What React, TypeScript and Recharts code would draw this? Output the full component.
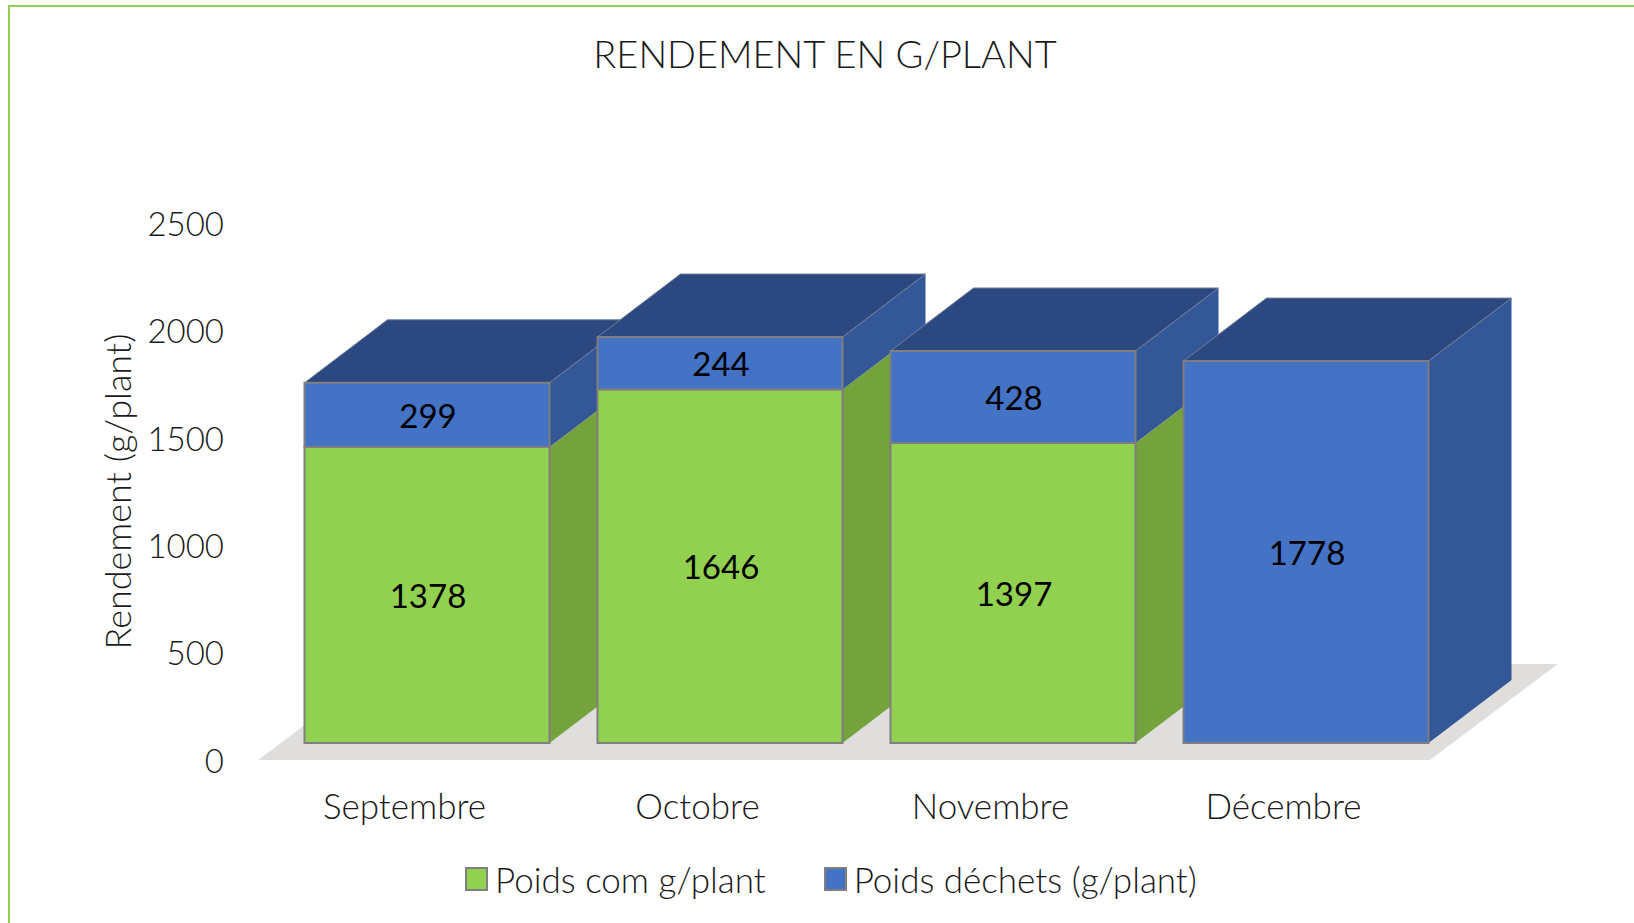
import { Bar, BarChart, Customized, Legend, XAxis, YAxis, usePlotArea } from "recharts";

const categories = ["Septembre", "Octobre", "Novembre", "Décembre"];
const poidsCom = [1378, 1646, 1397, null];
const poidsDechets = [299, 244, 428, 1778];
const yTicks = [0, 500, 1000, 1500, 2000, 2500];

const rows = categories.map((name, i) => ({
  name,
  [`com${i}`]: poidsCom[i],
  [`dechets${i}`]: poidsDechets[i],
}));

const FONT = "Lato, sans-serif";
const INK = "#1A1A1A";
const GREEN = "#92D050";
const GREEN_SIDE = "#74A33D";
const BLUE = "#4472C4";
const BLUE_SIDE = "#335797";
const BLUE_TOP = "#2B4880";
const EDGE = "#7F7F7F";

// the bars sit back from the floor's front edge, like Excel's 3D columns
const SHIFT_X = 22.5;
const SHIFT_Y = -17;
const DEPTH_X = 83;
const DEPTH_Y = 63;

function Floor() {
  const plot = usePlotArea();
  if (!plot) return null;
  const bottom = plot.y + plot.height;
  const right = plot.x + plot.width;
  const points = [
    [plot.x, bottom],
    [right, bottom],
    [right + 128, bottom - 96],
    [plot.x + 128, bottom - 96],
  ];
  return <polygon points={points.map((p) => p.join(",")).join(" ")} fill="#E0DDDD" />;
}

function Box(props: any) {
  const { width: w, height: h, fill, value, isTop, sideFill } = props;
  if (!h || h <= 0) return null;
  const x = props.x + SHIFT_X;
  const y = props.y + SHIFT_Y;
  const r = x + w;
  const label = Array.isArray(value) ? value[1] - value[0] : value;
  return (
    <g>
      <polygon
        points={`${r},${y} ${r + DEPTH_X},${y - DEPTH_Y} ${r + DEPTH_X},${y + h - DEPTH_Y} ${r},${y + h}`}
        fill={sideFill}
      />
      {isTop && (
        <polygon
          points={`${x},${y} ${x + DEPTH_X},${y - DEPTH_Y} ${r + DEPTH_X},${y - DEPTH_Y} ${r},${y}`}
          fill={BLUE_TOP}
          stroke="#6F7F9C"
          strokeWidth={1}
        />
      )}
      <rect x={x} y={y} width={w} height={h} fill={fill} stroke={EDGE} strokeWidth={2} />
      <text
        x={x + w / 2}
        y={y + h / 2}
        dx={1}
        textAnchor="middle"
        dominantBaseline="central"
        fontFamily={FONT}
        fontSize={33}
        fill="#000"
      >
        {label}
      </text>
    </g>
  );
}

function LegendRow({ payload }: any) {
  const seen = new Set();
  const entries = (payload || []).filter((e: any) => {
    if (seen.has(e.value)) return false;
    seen.add(e.value);
    return true;
  });
  return (
    <div style={{ display: "flex", alignItems: "center", whiteSpace: "nowrap", fontFamily: FONT, fontWeight: 300, fontSize: 35, color: INK }}>
      {entries.map((entry: any) => (
        <div key={entry.value} style={{ display: "flex", alignItems: "center", marginRight: 58 }}>
          <span
            style={{
              boxSizing: "border-box",
              width: 23,
              height: 24,
              background: entry.color,
              border: `2px solid ${EDGE}`,
              marginRight: 7,
              display: "inline-block",
            }}
          />
          {entry.value}
        </div>
      ))}
    </div>
  );
}

export default function App() {
  const tickStyle = { fontFamily: FONT, fontWeight: 300, fontSize: 33, fill: INK };
  return (
    <div style={{ position: "absolute", left: 0, top: 0, width: 1634, height: 923, background: "#fff", overflow: "hidden" }}>
      <div
        style={{
          position: "absolute",
          left: 8,
          top: 5,
          width: 1640,
          height: 930,
          borderLeft: "2px solid #8FD14F",
          borderTop: "2px solid #8FD14F",
        }}
      />
      <div
        style={{
          position: "absolute",
          left: 0,
          top: 30,
          width: 1650,
          textAlign: "center",
          fontFamily: FONT,
          fontWeight: 300,
          fontSize: 38,
          color: INK,
        }}
      >
        RENDEMENT EN G/PLANT
      </div>
      <BarChart
        width={1634}
        height={923}
        data={rows}
        barSize={245}
        margin={{ top: 223, right: 204, bottom: 25, left: 0 }}
        style={{ position: "absolute", left: 0, top: 0 }}
      >
        <Customized component={Floor} />
        <XAxis
          dataKey="name"
          interval={0}
          height={98}
          axisLine={false}
          tickLine={false}
          tickMargin={28}
          tick={{ ...tickStyle, fontSize: 35 }}
        />
        <YAxis
          type="number"
          domain={[0, 2500]}
          ticks={yTicks}
          width={258}
          axisLine={false}
          tickLine={false}
          tickMargin={34}
          tick={{ ...tickStyle, dx: 6, dy: 1 }}
          label={{
            value: "Rendement (g/plant)",
            angle: -90,
            position: "insideLeft",
            offset: 118,
            style: { ...tickStyle, fontSize: 36, textAnchor: "middle" },
          }}
        />
        <Legend
          verticalAlign="bottom"
          height={40}
          content={<LegendRow />}
          wrapperStyle={{ left: 465, width: 900 }}
        />
        {categories.flatMap((_, i) => [
          <Bar
            key={`com${i}`}
            dataKey={`com${i}`}
            name="Poids com g/plant"
            stackId="a"
            fill={GREEN}
            legendType={i === 0 ? "square" : "none"}
            isAnimationActive={false}
            shape={(p: any) => <Box {...p} sideFill={GREEN_SIDE} />}
          />,
          <Bar
            key={`dechets${i}`}
            dataKey={`dechets${i}`}
            name="Poids déchets (g/plant)"
            stackId="a"
            fill={BLUE}
            legendType={i === 0 ? "square" : "none"}
            isAnimationActive={false}
            shape={(p: any) => <Box {...p} sideFill={BLUE_SIDE} isTop />}
          />,
        ])}
      </BarChart>
    </div>
  );
}
